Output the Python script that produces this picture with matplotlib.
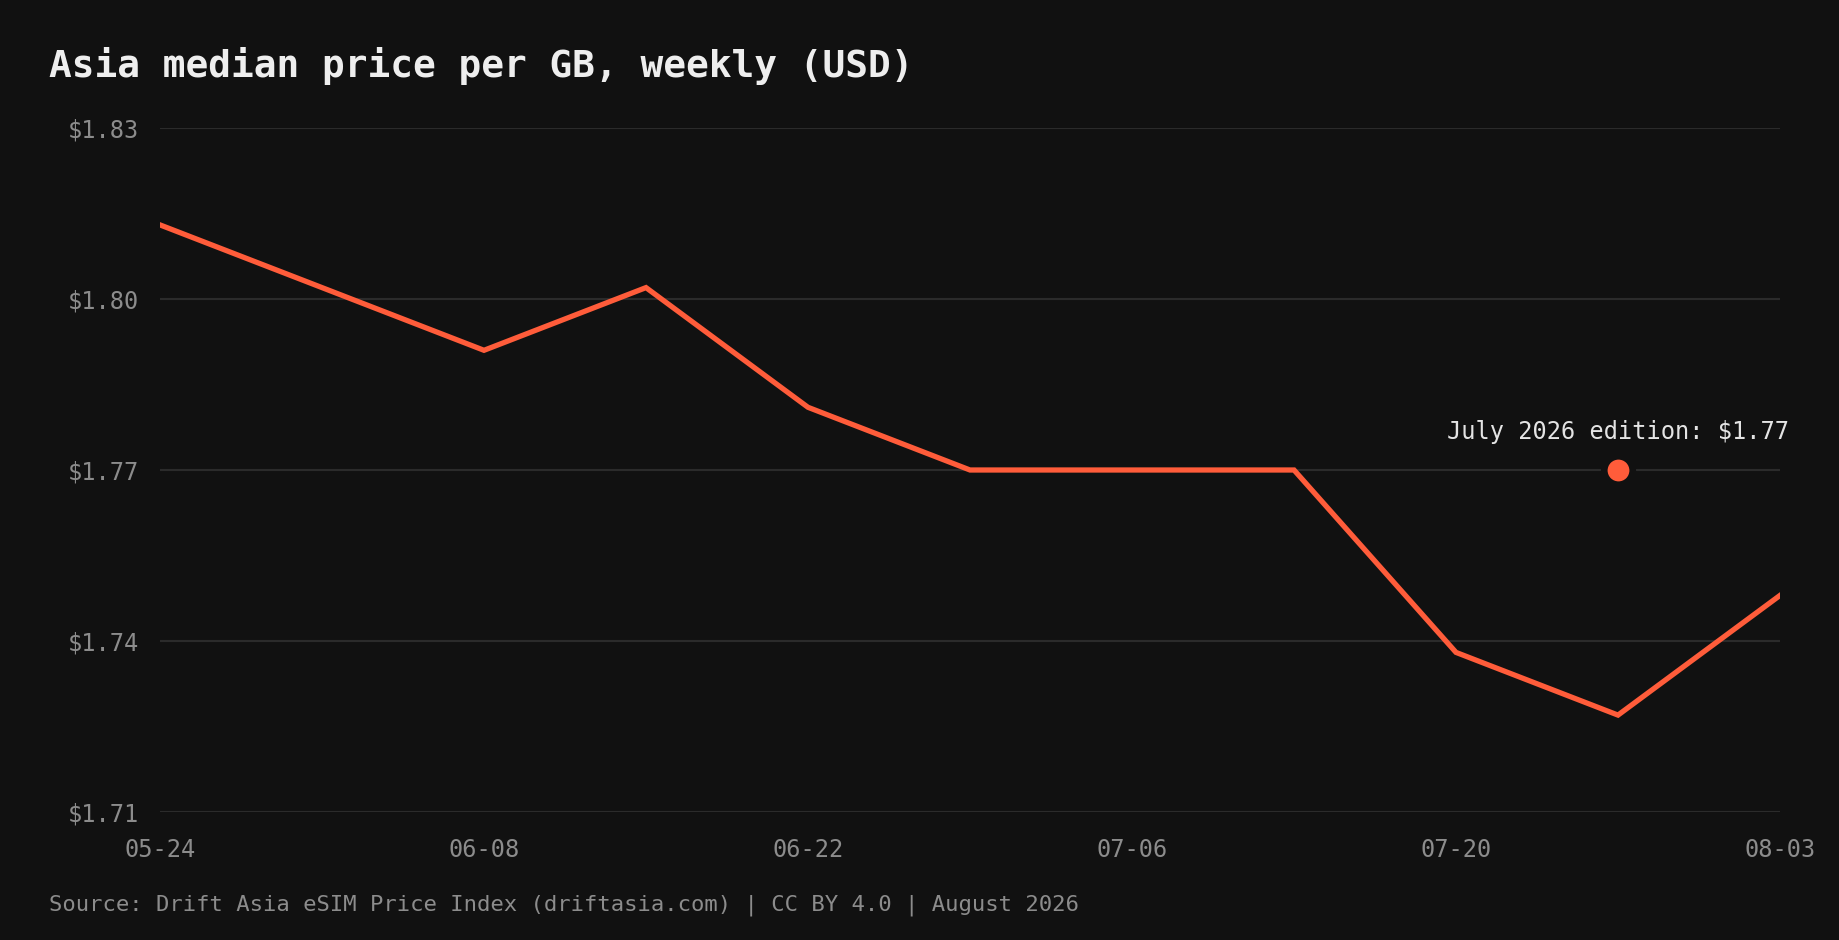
import matplotlib
matplotlib.use("Agg")
import matplotlib.pyplot as plt

# weekly points, only every other label is shown on the axis
weeks = ["05-24", "06-01", "06-08", "06-15", "06-22", "06-29",
         "07-06", "07-13", "07-20", "07-27", "08-03"]
prices = [1.813, 1.802, 1.791, 1.802, 1.781, 1.770,
          1.770, 1.770, 1.738, 1.727, 1.748]
y_ticks = [1.71, 1.74, 1.77, 1.80, 1.83]

edition_week = "07-27"
edition_price = 1.77
edition_label = "July 2026 edition: \\$1.77"

BG = "#111111"
ACCENT = "#ff5c3a"
GRID = "#2b2b2b"
MUTED = "#8c8c8c"

plt.rcParams["font.family"] = ["DejaVu Sans Mono"]

fig = plt.figure(figsize=(18.4, 9.4), dpi=100, facecolor=BG)
ax = fig.add_axes([160 / 1840, 1 - 812 / 940, 1620 / 1840, 684 / 940])
ax.set_facecolor(BG)

x = list(range(len(weeks)))
ax.plot(x, prices, color=ACCENT, lw=3.8, solid_joinstyle="miter", zorder=3)

ex = weeks.index(edition_week)
ax.plot([ex], [edition_price], "o", ms=20.5, color=ACCENT,
        mec=BG, mew=4.8, zorder=4)
ax.annotate(edition_label, (ex, edition_price), xytext=(0, 27),
            textcoords="offset points", ha="center", va="center",
            fontsize=17, color="#e4e4e4", zorder=5)

ax.set_xlim(0, len(weeks) - 1)
ax.set_ylim(y_ticks[0], y_ticks[-1])
ax.set_xticks(x[::2])
ax.set_xticklabels(weeks[::2])
ax.set_yticks(y_ticks)
ax.set_yticklabels([f"\\${v:.2f}" for v in y_ticks])
ax.tick_params(axis="both", length=0, labelsize=17, colors=MUTED)
ax.tick_params(axis="y", pad=15)
ax.tick_params(axis="x", pad=19)
ax.grid(axis="y", color=GRID, lw=1.5)
ax.grid(axis="x", visible=False)
for s in ax.spines.values():
    s.set_visible(False)

fig.text(49 / 1840, 1 - 77 / 940, "Asia median price per GB, weekly (USD)",
         fontsize=27.2, fontweight="bold", color="#eeeeee",
         ha="left", va="baseline")
fig.text(49 / 1840, 1 - 905 / 940,
         "Source: Drift Asia eSIM Price Index (driftasia.com) | CC BY 4.0 | August 2026",
         fontsize=16, color=MUTED, ha="left", va="center")

fig.savefig("out.png", dpi=100, facecolor=BG)
